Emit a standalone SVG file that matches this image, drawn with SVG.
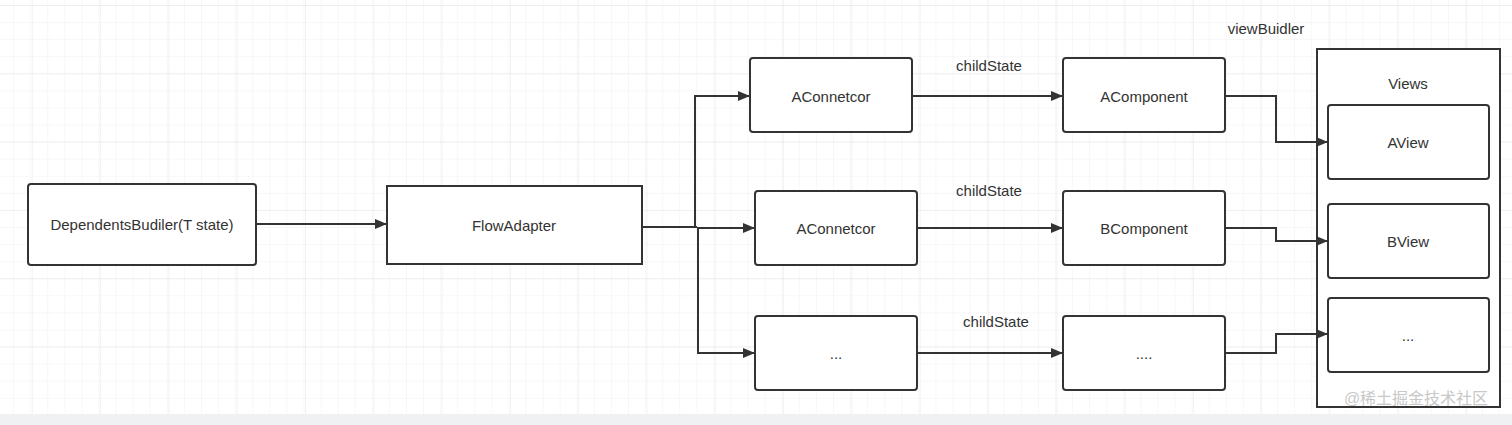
<svg xmlns="http://www.w3.org/2000/svg" width="1512" height="425" viewBox="0 0 1512 425">
<defs>
<pattern id="minor" x="-3" y="5" width="17.08" height="17.08" patternUnits="userSpaceOnUse">
<path d="M17.08 0V17.08M0 0H17.08" fill="none" stroke="#f0f0f0" stroke-width="1"/>
</pattern>
<pattern id="major" x="-36.5" y="5" width="68.3" height="68.3" patternUnits="userSpaceOnUse">
<path d="M0 0V68.3M0 0H68.3" fill="none" stroke="#e6e6e6" stroke-width="1"/>
</pattern>
<marker id="arr" viewBox="0 0 12 10" refX="11" refY="5" markerWidth="12" markerHeight="10" markerUnits="userSpaceOnUse" orient="auto">
<path d="M0 0L12 5L0 10Z" fill="#333"/>
</marker>
</defs>
<style>
.box{fill:#fff;stroke:#333;stroke-width:2}
.t{font-family:"Liberation Sans",Arial,sans-serif;font-size:15px;fill:#333;text-anchor:middle;dominant-baseline:central}
.c{fill:none;stroke:#333;stroke-width:2}
</style>
<rect width="1512" height="425" fill="#fff"/>
<rect width="1512" height="425" fill="url(#minor)"/>
<rect width="1512" height="425" fill="url(#major)"/>
<rect x="0" y="414" width="1512" height="11" fill="#f0f1f3"/>

<g id="dependents">
<rect class="box" x="28" y="184" width="228" height="81" rx="3"/>
<text class="t" x="142" y="224.5">DependentsBudiler(T state)</text>
</g>
<g id="flowadapter">
<rect class="box" x="387" y="186" width="255" height="78"/>
<text class="t" x="514" y="225.5">FlowAdapter</text>
</g>
<g id="aconnector1">
<rect class="box" x="750" y="58" width="162" height="74" rx="3"/>
<text class="t" x="831" y="96">AConnetcor</text>
</g>
<g id="aconnector2">
<rect class="box" x="755" y="191" width="162" height="74" rx="3"/>
<text class="t" x="836" y="228">AConnetcor</text>
</g>
<g id="connector3">
<rect class="box" x="755" y="316" width="162" height="74" rx="3"/>
<text class="t" x="836" y="353">...</text>
</g>
<g id="acomponent">
<rect class="box" x="1063" y="58" width="162" height="74" rx="3"/>
<text class="t" x="1144" y="96">AComponent</text>
</g>
<g id="bcomponent">
<rect class="box" x="1063" y="191" width="162" height="74" rx="3"/>
<text class="t" x="1144" y="228">BComponent</text>
</g>
<g id="component3">
<rect class="box" x="1063" y="316" width="162" height="74" rx="3"/>
<text class="t" x="1144" y="353">....</text>
</g>
<g id="views">
<rect class="box" x="1317" y="49" width="183" height="358"/>
<text class="t" x="1408" y="83">Views</text>
</g>
<g id="aview">
<rect class="box" x="1328" y="105" width="161" height="74" rx="3"/>
<text class="t" x="1408" y="142">AView</text>
</g>
<g id="bview">
<rect class="box" x="1328" y="204" width="161" height="74" rx="3"/>
<text class="t" x="1408" y="241">BView</text>
</g>
<g id="view3">
<rect class="box" x="1328" y="298" width="161" height="74" rx="3"/>
<text class="t" x="1408" y="335">...</text>
</g>

<g id="connectors">
<path class="c" d="M256 224H386" marker-end="url(#arr)"/>
<path class="c" d="M642 227H697"/>
<path class="c" d="M695 227V96H749" marker-end="url(#arr)"/>
<path class="c" d="M697 228H754" marker-end="url(#arr)"/>
<path class="c" d="M698 227V353H754" marker-end="url(#arr)"/>
<path class="c" d="M912 96H1062" marker-end="url(#arr)"/>
<path class="c" d="M917 228H1062" marker-end="url(#arr)"/>
<path class="c" d="M917 353H1062" marker-end="url(#arr)"/>
<path class="c" d="M1225 96H1276V142H1327" marker-end="url(#arr)"/>
<path class="c" d="M1225 228H1276V241H1327" marker-end="url(#arr)"/>
<path class="c" d="M1225 353H1276V334H1327" marker-end="url(#arr)"/>
<text class="t" x="989" y="65">childState</text>
<text class="t" x="989" y="190">childState</text>
<text class="t" x="996" y="321">childState</text>
<text class="t" x="1266" y="28">viewBuidler</text>
</g>
<text x="1416" y="398" font-family="'Liberation Sans','Noto Sans CJK SC',sans-serif" font-size="16" fill="#c8c8c8" text-anchor="middle" dominant-baseline="central">@稀土掘金技术社区</text>
</svg>
